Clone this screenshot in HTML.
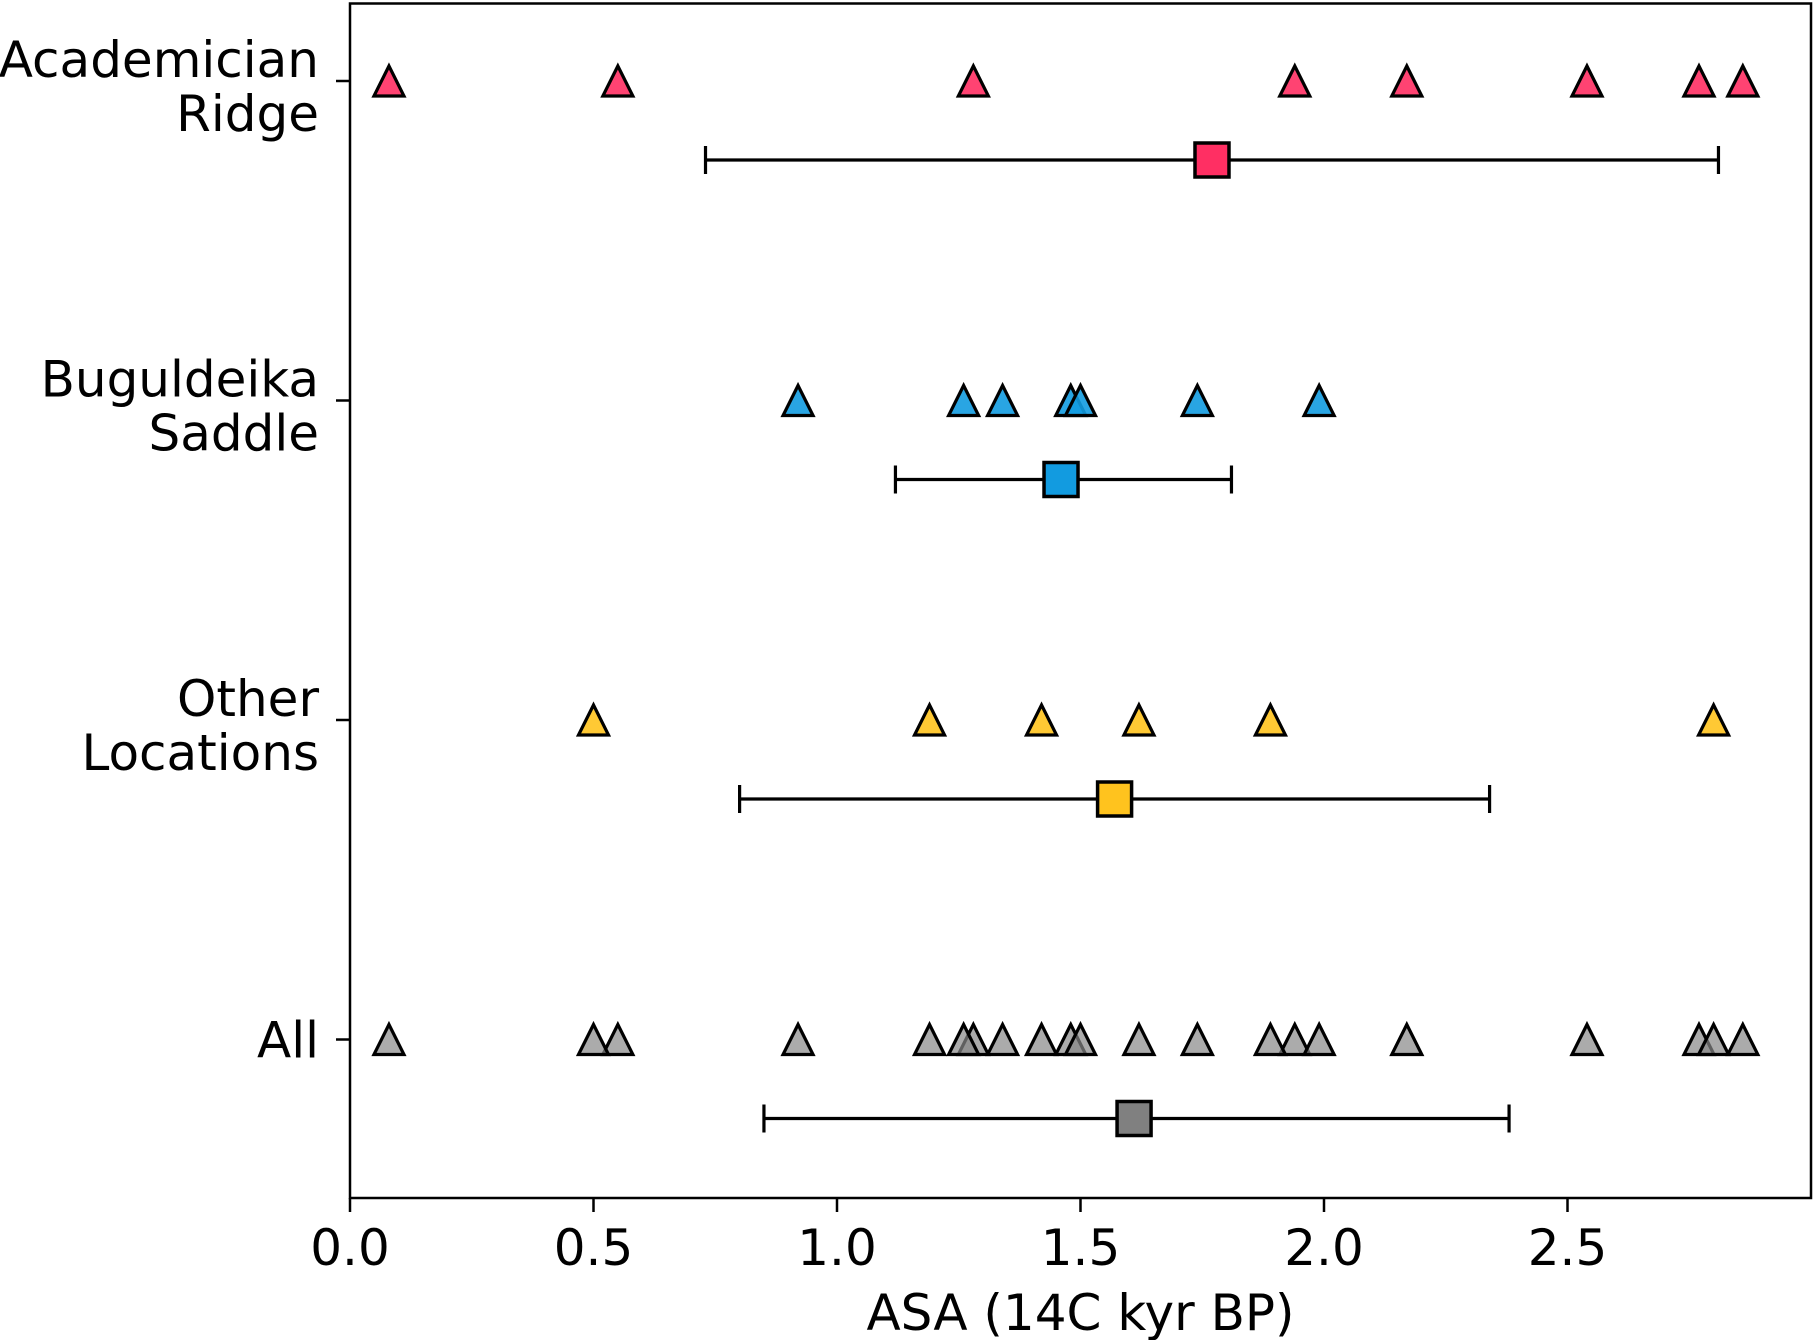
<!DOCTYPE html>
<html><head><meta charset="utf-8"><style>body{margin:0;background:#fff}svg{display:block}text{font-family:"DejaVu Sans","Liberation Sans",sans-serif;fill:#000}</style></head>
<body>
<svg id="chart" width="1815" height="1340" viewBox="0 0 1815 1340" xmlns="http://www.w3.org/2000/svg"></svg>
<script>
const categories = ["Academician|Ridge","Buguldeika|Saddle","Other|Locations","All"];
const academicianVals = [0.08,0.55,1.28,1.94,2.17,2.54,2.77,2.86];
const buguldeikaVals = [0.92,1.26,1.34,1.48,1.50,1.74,1.99];
const otherVals = [0.50,1.19,1.42,1.62,1.89,2.80];
const allVals = academicianVals.concat(buguldeikaVals, otherVals);
const means = [1.77,1.46,1.57,1.61];
const lows = [0.73,1.12,0.80,0.85];
const highs = [2.81,1.81,2.34,2.38];
const xTicks = [0,0.5,1.0,1.5,2.0,2.5];
const xTickLabels = ["0.0","0.5","1.0","1.5","2.0","2.5"];
const colors = ["#ff2f63","#129be0","#ffc31e","#888888"];
const series = [academicianVals,buguldeikaVals,otherVals,allVals];

const L=350,R=1811,T=3.5,B=1198;
const xMax=3.0;
const x=v=>L+(R-L)*v/xMax;
const yCat=i=>81+i*319.5;
const FS=50;
const svg=document.getElementById('chart');
const NS='http://www.w3.org/2000/svg';
function mk(tag,attrs,parent){const e=document.createElementNS(NS,tag);for(const k in attrs)e.setAttribute(k,attrs[k]);(parent||svg).appendChild(e);return e;}

xTicks.forEach((t,i)=>{
  const l=mk('line',{x1:x(t),x2:x(t),y1:B,y2:B+14,stroke:'#000','stroke-width':2.5});
  
  
  const tx=mk('text',{x:x(t),y:B+67,'font-size':FS,'text-anchor':'middle'});
  tx.textContent=xTickLabels[i];
  
  
});
const xt=mk('text',{x:(L+R)/2,y:1330,'font-size':FS,'text-anchor':'middle'});
xt.textContent='ASA (14C kyr BP)';



categories.forEach((c,i)=>{
  const y=yCat(i);
  const l=mk('line',{x1:L-14,x2:L,y1:y,y2:y,stroke:'#000','stroke-width':2.5});
  
  
  const parts=c.split('|');
  const tx=mk('text',{x:319,'font-size':FS,'text-anchor':'end'});
  
  
  if(parts.length===2){
    const a=mk('tspan',{x:319,y:y-4},tx);a.textContent=parts[0];
    const b=mk('tspan',{x:319,y:y+50},tx);b.textContent=parts[1];
  } else {
    const a=mk('tspan',{x:319,y:y+18},tx);a.textContent=parts[0];
  }
  series[i].forEach(v=>{
    const cx=x(v),s=15;
    const p=mk('polygon',{points:`${cx},${y-s} ${cx+s},${y+s} ${cx-s},${y+s}`,fill:colors[i],'fill-opacity':i===3?0.7:0.9,stroke:'#000','stroke-width':3.2,'stroke-linejoin':'miter'});
    
    
  });
  const ys=y+79;
  const g=mk('g',{});
  
  
  mk('line',{x1:x(lows[i]),x2:x(highs[i]),y1:ys,y2:ys,stroke:'#000','stroke-width':3.2},g);
  mk('line',{x1:x(lows[i]),x2:x(lows[i]),y1:ys-14,y2:ys+14,stroke:'#000','stroke-width':3.2},g);
  mk('line',{x1:x(highs[i]),x2:x(highs[i]),y1:ys-14,y2:ys+14,stroke:'#000','stroke-width':3.2},g);
  const sq=mk('rect',{x:x(means[i])-17,y:ys-17,width:34,height:34,fill:i===3?'#808080':colors[i],stroke:'#000','stroke-width':3.5});
  
  
});
const fr=mk('rect',{x:L,y:T,width:R-L,height:B-T,fill:'none',stroke:'#000','stroke-width':2.5});


</script>
</body></html>
